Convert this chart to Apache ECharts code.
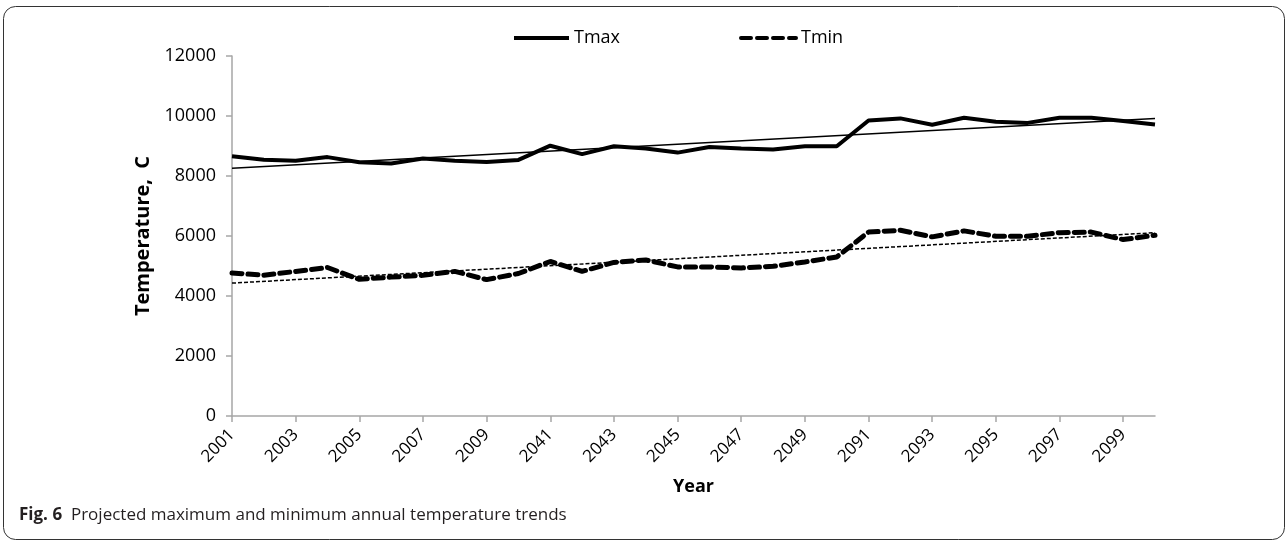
<!DOCTYPE html>
<html>
<head>
<meta charset="utf-8">
<title>Projected temperature trends</title>
<script src="https://cdn.jsdelivr.net/npm/echarts@6/dist/echarts.min.js"></script>
<style>
  html, body { margin: 0; padding: 0; background: #fff; }
  #chart { width: 1288px; height: 541px; }
</style>
</head>
<body>
<div id="chart"></div>
<script>
// years: three 10-year windows
const years = [
  '2001', '2002', '2003', '2004', '2005', '2006', '2007', '2008', '2009', '2010',
  '2041', '2042', '2043', '2044', '2045', '2046', '2047', '2048', '2049', '2050',
  '2091', '2092', '2093', '2094', '2095', '2096', '2097', '2098', '2099', '2100'
];

const tmax = [
  8660, 8545, 8510, 8630, 8460, 8420, 8580, 8510, 8470, 8535,
  9010, 8730, 8990, 8920, 8780, 8965, 8920, 8880, 8990, 8990,
  9850, 9920, 9710, 9940, 9810, 9770, 9940, 9940, 9830, 9720
];

const tmin = [
  4770, 4690, 4820, 4950, 4555, 4630, 4690, 4820, 4545, 4750,
  5150, 4820, 5120, 5200, 4970, 4970, 4935, 4990, 5135, 5300,
  6130, 6190, 5970, 6170, 5990, 5990, 6110, 6130, 5880, 6025
];

// linear trend lines, read at the first and last year
const tmaxTrend = [8260, 9920];
const tminTrend = [4430, 6110];

const yTicks = { min: 0, max: 12000, step: 2000 };

function trendData(ends) {
  const d = years.map(() => null);
  d[0] = ends[0];
  d[d.length - 1] = ends[1];
  return d;
}

const chart = echarts.init(document.getElementById('chart'), null, { renderer: 'canvas' });
const axisGray = '#a6a6a6';
const font = '"Open Sans", Lato, sans-serif';

chart.setOption({
  backgroundColor: '#fff',
  animation: false,
  textStyle: { fontFamily: font, color: '#000' },
  grid: { left: 232, right: 133, top: 56, bottom: 125 },
  legend: {
    data: ['Tmax', 'Tmin'],
    left: 507, top: 24,
    itemWidth: 55, itemHeight: 18, itemGap: 119,
    itemStyle: { opacity: 0, color: 'transparent', borderWidth: 0 },
    lineStyle: { width: 4 },
    textStyle: { fontSize: 18, color: '#000', fontFamily: font }
  },
  xAxis: {
    type: 'category',
    data: years,
    boundaryGap: false,
    name: 'Year',
    nameLocation: 'middle',
    nameGap: 62,
    nameTextStyle: { fontSize: 18, fontWeight: 'bold', color: '#000', fontFamily: font },
    axisLine: { lineStyle: { color: axisGray, width: 1.5 } },
    axisTick: { interval: 1, length: 6, lineStyle: { color: axisGray, width: 1.5 } },
    axisLabel: { interval: 1, rotate: 45, fontSize: 17, color: '#000', margin: 16 }
  },
  yAxis: {
    type: 'value',
    min: yTicks.min, max: yTicks.max, interval: yTicks.step,
    name: 'Temperature,  C',
    nameLocation: 'middle',
    nameGap: 74,
    nameTextStyle: { fontSize: 20, fontWeight: 'bold', color: '#000', fontFamily: font },
    axisLine: { show: true, lineStyle: { color: axisGray, width: 1.5 } },
    axisTick: { show: true, length: 6, lineStyle: { color: axisGray, width: 1.5 } },
    splitLine: { show: false },
    axisLabel: { fontSize: 18, color: '#000', margin: 16, formatter: v => String(v) }
  },
  series: [
    {
      name: 'Tmax', type: 'line', data: tmax,
      symbol: 'none', z: 3,
      lineStyle: { color: '#000', width: 4 },
      itemStyle: { color: '#000' }
    },
    {
      name: 'Tmin', type: 'line', data: tmin,
      symbol: 'none', z: 3,
      lineStyle: { color: '#000', width: 5, type: [10, 6], cap: 'round' },
      itemStyle: { color: '#000' }
    },
    {
      name: 'Tmax trend', type: 'line', data: trendData(tmaxTrend),
      connectNulls: true, symbol: 'none', z: 2,
      lineStyle: { color: '#000', width: 1.5 }
    },
    {
      name: 'Tmin trend', type: 'line', data: trendData(tminTrend),
      connectNulls: true, symbol: 'none', z: 2,
      lineStyle: { color: '#000', width: 1.5, type: [4, 2] }
    }
  ],
  graphic: [
    {
      type: 'rect', z: -1,
      shape: { x: 3.5, y: 6.5, width: 1281, height: 533, r: 12 },
      style: { fill: 'none', stroke: '#333', lineWidth: 1 }
    },
    {
      type: 'text', left: 19, top: 507,
      style: {
        text: '{b|Fig. 6}  Projected maximum and minimum annual temperature trends',
        font: '17px ' + font, fill: '#231f20',
        rich: { b: { fontWeight: 'bold', fontSize: 17, fontFamily: font, fill: '#231f20' } }
      }
    }
  ]
});

window.addEventListener('resize', () => chart.resize());
</script>
</body>
</html>
